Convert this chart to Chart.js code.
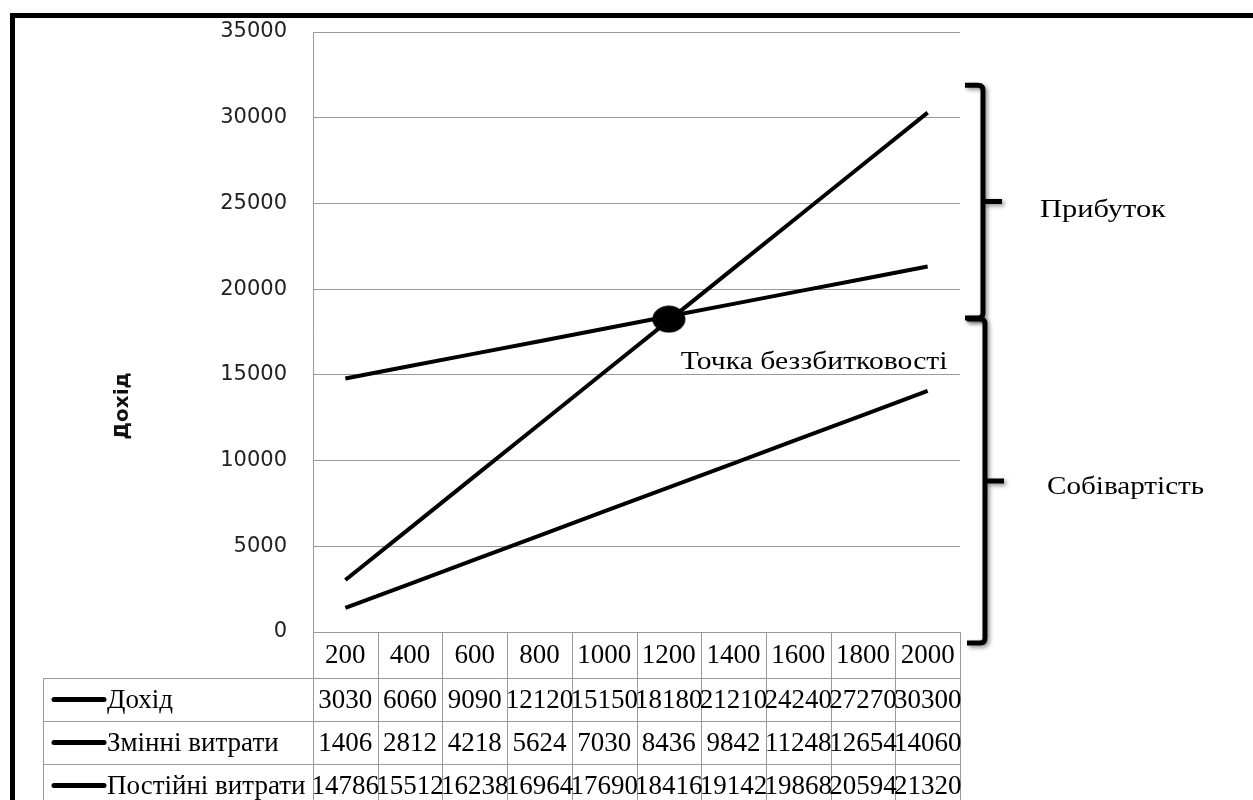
<!DOCTYPE html>
<html>
<head>
<meta charset="utf-8">
<script src="https://cdn.jsdelivr.net/npm/chart.js@4"></script>
<style>
html,body{margin:0;padding:0;background:#fff;}
canvas{display:block;}
</style>
</head>
<body>
<canvas id="c" width="1253" height="800"></canvas>
<script>
// ---- data ----
const categories = ['200','400','600','800','1000','1200','1400','1600','1800','2000'];
const seriesNames = ['Дохід','Змінні витрати','Постійні витрати'];
const income = [3030,6060,9090,12120,15150,18180,21210,24240,27270,30300];
const variableCosts = [1406,2812,4218,5624,7030,8436,9842,11248,12654,14060];
const fixedCosts = [14786,15512,16238,16964,17690,18416,19142,19868,20594,21320];
const breakEven = [null,null,null,null,null,18250,null,null,null,null];
const yTicks = [0,5000,10000,15000,20000,25000,30000,35000];
const yTitle = 'Дохід';
const breakEvenLabel = 'Точка беззбитковості';
const profitLabel = 'Прибуток';
const costLabel = 'Собівартість';
// bracket spans expressed in y-axis values
const profitSpan = [31900, 18320];
const costSpan = [18260, -640];

const GRID = '#9a9a9a';
const SERIF = '"Liberation Serif", "Times New Roman", serif';

// ellipse marker for the break-even point
const marker = document.createElement('canvas');
marker.width = 34; marker.height = 28;
(function(){
  const m = marker.getContext('2d');
  m.fillStyle = '#000';
  m.beginPath();
  m.ellipse(17,14,16.5,13.5,0,0,Math.PI*2);
  m.fill();
})();

const seriesData = [income, variableCosts, fixedCosts];

function stretchText(ctx, text, x, y, sx){
  ctx.save();
  ctx.translate(x, y);
  ctx.scale(sx, 1);
  ctx.fillText(text, 0, 0);
  ctx.restore();
}

const decor = {
  id: 'decor',
  beforeDraw(chart){
    const ctx = chart.ctx;
    ctx.save();
    ctx.fillStyle = '#fff';
    ctx.fillRect(0,0,chart.width,chart.height);
    ctx.restore();
  },
  afterDraw(chart){
    const ctx = chart.ctx;
    const xs = chart.scales.x, ys = chart.scales.y;
    const area = chart.chartArea;
    const n = categories.length;
    const colW = (area.right - area.left) / n;
    const headerTop = area.bottom, headerH = 46, rowH = 43;
    const tableLeft = 43;
    ctx.save();
    // table lines
    ctx.strokeStyle = GRID;
    ctx.lineWidth = 1;
    ctx.beginPath();
    for (let i=0;i<=n;i++){
      const x = Math.round(area.left + i*colW)+0.5;
      ctx.moveTo(x, headerTop); ctx.lineTo(x, chart.height+10);
    }
    for (let r=0;r<=seriesNames.length;r++){
      const y = Math.round(headerTop+headerH+r*rowH)+0.5;
      ctx.moveTo(tableLeft, y); ctx.lineTo(area.right+0.5, y);
    }
    ctx.moveTo(tableLeft+0.5, headerTop+headerH); ctx.lineTo(tableLeft+0.5, chart.height+10);
    ctx.stroke();

    ctx.fillStyle = '#000';
    ctx.textBaseline = 'middle';
    ctx.font = '27px ' + SERIF;
    ctx.textAlign = 'center';
    categories.forEach((c,i)=>{
      ctx.fillText(c, xs.getPixelForValue(i), headerTop + headerH/2 + 1);
    });
    seriesNames.forEach((name,r)=>{
      const cy = headerTop+headerH+r*rowH+rowH/2;
      ctx.strokeStyle = '#000';
      ctx.lineWidth = 5;
      ctx.lineCap = 'round';
      ctx.beginPath(); ctx.moveTo(54, cy); ctx.lineTo(104, cy); ctx.stroke();
      ctx.textAlign = 'left';
      ctx.fillText(name, 107, cy+1);
      ctx.textAlign = 'center';
      seriesData[r].forEach((v,i)=>{
        ctx.fillText(String(v), xs.getPixelForValue(i), cy+1);
      });
    });

    // y title
    ctx.save();
    ctx.translate(123, 406);
    ctx.rotate(-Math.PI/2);
    ctx.font = 'bold 20px "DejaVu Sans", sans-serif';
    ctx.textAlign = 'center';
    ctx.fillStyle = '#111';
    ctx.fillText(yTitle, 0, 0);
    ctx.restore();

    // break-even label
    const bi = breakEven.findIndex(v=>v!==null);
    const bx = xs.getPixelForValue(bi), by = ys.getPixelForValue(breakEven[bi]);
    ctx.font = '26px ' + SERIF;
    ctx.textAlign = 'left';
    ctx.textBaseline = 'alphabetic';
    ctx.fillStyle = '#000';
    stretchText(ctx, breakEvenLabel, bx + 12, by + 50, 1.14);

    // brackets
    function bracket(top, bottom, x){
      const mid = (top+bottom)/2;
      ctx.save();
      ctx.strokeStyle = '#000';
      ctx.lineWidth = 5;
      ctx.lineCap = 'butt';
      ctx.lineJoin = 'round';
      ctx.shadowColor = 'rgba(0,0,0,0.45)';
      ctx.shadowBlur = 4;
      ctx.shadowOffsetX = 2;
      ctx.shadowOffsetY = 2;
      ctx.beginPath();
      ctx.moveTo(x-18, top);
      ctx.lineTo(x-5, top);
      ctx.quadraticCurveTo(x, top, x, top+5);
      ctx.lineTo(x, bottom-5);
      ctx.quadraticCurveTo(x, bottom, x-5, bottom);
      ctx.lineTo(x-18, bottom);
      ctx.moveTo(x, mid);
      ctx.lineTo(x+19, mid);
      ctx.stroke();
      ctx.restore();
    }
    const pTop = ys.getPixelForValue(profitSpan[0]), pBot = ys.getPixelForValue(profitSpan[1]);
    const cTop = ys.getPixelForValue(costSpan[0]), cBot = ys.getPixelForValue(costSpan[1]);
    bracket(pTop, pBot, 983);
    bracket(cTop, cBot, 985);
    ctx.font = '26px ' + SERIF;
    ctx.textBaseline = 'middle';
    ctx.textAlign = 'left';
    ctx.fillStyle = '#000';
    stretchText(ctx, profitLabel, 1040, (pTop+pBot)/2 + 9, 1.17);
    stretchText(ctx, costLabel, 1047, (cTop+cBot)/2 + 6, 1.12);

    // outer frame
    ctx.strokeStyle = '#000';
    ctx.lineWidth = 5;
    ctx.strokeRect(12.5, 15.5, 1400, 1000);
    ctx.restore();
  }
};

new Chart(document.getElementById('c'), {
  type: 'line',
  data: {
    labels: categories,
    datasets: [
      { label: seriesNames[0], data: income, borderColor:'#000', borderWidth:4, pointRadius:0, tension:0 },
      { label: seriesNames[1], data: variableCosts, borderColor:'#000', borderWidth:4, pointRadius:0, tension:0 },
      { label: seriesNames[2], data: fixedCosts, borderColor:'#000', borderWidth:4, pointRadius:0, tension:0 },
      { label: 'break-even', data: breakEven, showLine:false, pointStyle: marker, pointRadius:5, borderColor:'#000', backgroundColor:'#000' }
    ]
  },
  options: {
    responsive: false,
    devicePixelRatio: 1,
    animation: false,
    layout: { padding: { left: 0, top: 32, right: 293, bottom: 168 } },
    plugins: { legend: { display:false }, tooltip: { enabled:false } },
    scales: {
      x: { type:'category', offset:true, display:false },
      y: {
        min: 0, max: 35000,
        afterBuildTicks(scale){ scale.ticks = yTicks.map(v=>({value:v})); },
        afterFit(scale){ scale.width = 313; scale.paddingTop = 12; scale.paddingBottom = 12; },
        ticks: { font:{ family:'"DejaVu Sans", sans-serif', size:21 }, color:'#222', padding:26,
                 callback: v => String(v) },
        grid: { color: GRID, lineWidth:1, drawTicks:false },
        border: { color: GRID, width:1 }
      }
    }
  },
  plugins: [decor]
});
</script>
</body>
</html>
